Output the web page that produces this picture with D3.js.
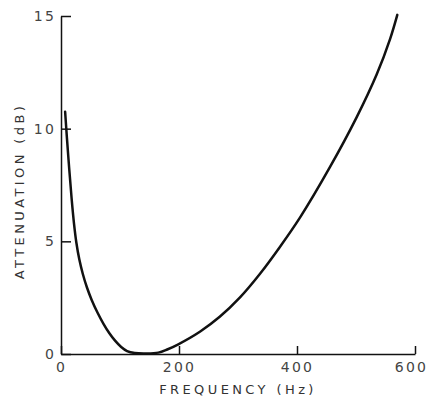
<!DOCTYPE html>
<html>
<head>
<meta charset="utf-8">
<script src="https://cdn.jsdelivr.net/npm/d3@7"></script>
<style>
  body { margin: 0; background: #fff; }
  svg { display: block; }
  .axis text { font-family: "DejaVu Sans", sans-serif; font-size: 14px; fill: #444; letter-spacing: 2.2px; }
  .axis path, .axis line { stroke: #111; stroke-width: 1.5px; }
  .title { font-family: "DejaVu Sans", sans-serif; font-size: 13px; fill: #333; letter-spacing: 3.4px; }
</style>
</head>
<body>
<svg width="431" height="398"></svg>
<script>

// data
var freq = [7, 10, 14, 18, 22, 26, 31, 37, 44, 52, 62, 72, 82, 92, 102, 112, 125, 145, 165, 180,
            198, 236, 269, 303, 337, 371, 405, 456, 501, 535, 558, 570];
var atten = [10.75, 9.6, 8.2, 6.9, 5.8, 4.95, 4.2, 3.55, 2.95, 2.4, 1.83, 1.34, 0.92, 0.58, 0.31, 0.13, 0.04, 0.02, 0.06, 0.2,
             0.42, 1.0, 1.65, 2.5, 3.55, 4.75, 6.05, 8.3, 10.5, 12.4, 14.0, 15.05];
var xTicks = [0, 200, 400, 600];
var yTicks = [0, 5, 10, 15];

var svg = d3.select("svg"),
    margin = {top: 16, right: 16, bottom: 44, left: 61},
    width = 354,
    height = 338,
    g = svg.append("g").attr("transform", "translate(" + margin.left + "," + margin.top + ")");

var x = d3.scaleLinear().domain([0, 600]).range([0, width]),
    y = d3.scaleLinear().domain([0, 15]).range([height, 0]);

var data = freq.map(function(f, i) { return {f: f, a: atten[i]}; });

var line = d3.line()
    .curve(d3.curveCatmullRom.alpha(0.5))
    .x(function(d) { return x(d.f); })
    .y(function(d) { return y(d.a); });

var xAxis = g.append("g")
    .attr("class", "axis axis--x")
    .attr("transform", "translate(0," + height + ")")
    .call(d3.axisBottom(x).tickValues(xTicks).tickSizeInner(-8).tickSizeOuter(0).tickPadding(8));

// last label sits right at the page edge, pull it in a little
xAxis.selectAll(".tick text").filter(function(d) { return d === 600; }).attr("dx", -4);

g.append("g")
    .attr("class", "axis axis--y")
    .call(d3.axisLeft(y).tickValues(yTicks).tickSizeInner(-10).tickSizeOuter(0).tickPadding(5));

g.selectAll(".axis text").attr("fill", null);

g.append("path")
    .datum(data)
    .attr("fill", "none")
    .attr("stroke", "#111")
    .attr("stroke-width", 2.5)
    .attr("stroke-linecap", "round")
    .attr("d", line);

svg.append("text")
    .attr("class", "title")
    .attr("x", 238)
    .attr("y", 394)
    .attr("text-anchor", "middle")
    .text("FREQUENCY (Hz)");

svg.append("text")
    .attr("class", "title")
    .attr("transform", "translate(24,191) rotate(-90)")
    .attr("text-anchor", "middle")
    .text("ATTENUATION (dB)");

</script>
</body>
</html>
